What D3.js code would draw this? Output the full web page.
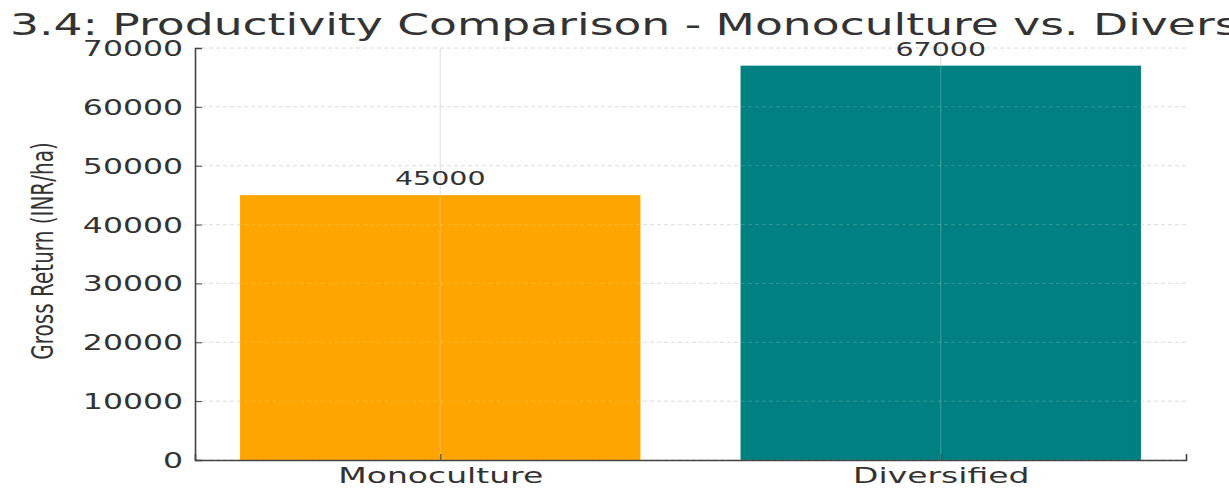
<!DOCTYPE html>
<html><head><meta charset="utf-8">
<script src="https://cdn.jsdelivr.net/npm/d3@7"></script>
<style>body{margin:0;background:#fff;overflow:hidden}text{font-family:"DejaVu Sans",sans-serif}</style>
</head><body>
<svg id="c" width="1229" height="488"></svg>
<script>
const categories = ["Monoculture", "Diversified"];
const values = [45000, 67000];
const colors = ["#FFA500", "#008080"];
const yTicks = [0, 10000, 20000, 30000, 40000, 50000, 60000, 70000];
const title = "3.4: Productivity Comparison - Monoculture vs. Diversified";
const yLabel = "Gross Return (INR/ha)";

const SX = 1.5;
const svg = d3.select("#c");
const L = 195, R = 1186, T = 48, B = 460;
const x = d3.scaleLinear().domain([-0.49, 1.49]).range([L, R]);
const y = d3.scaleLinear().domain([0, 70000]).range([B, T]);
const textCol = "#333";

// grid
svg.append("g").selectAll("line").data(yTicks).join("line")
  .attr("x1", L).attr("x2", R).attr("y1", d => y(d)).attr("y2", d => y(d))
  .attr("stroke", "#d8d8d8").attr("stroke-width", 1).attr("stroke-dasharray", "4,3");
svg.append("g").selectAll("line").data(categories).join("line")
  .attr("x1", (d, i) => x(i)).attr("x2", (d, i) => x(i)).attr("y1", T).attr("y2", B)
  .attr("stroke", "#d8d8d8").attr("stroke-width", 1);

// bars
svg.append("g").selectAll("rect").data(values).join("rect")
  .attr("x", (d, i) => x(i - 0.4)).attr("width", x(0.4) - x(-0.4))
  .attr("y", d => y(d)).attr("height", d => B - y(d))
  .attr("fill", (d, i) => colors[i]);

// faint grid over bars
svg.append("g").selectAll("line").data(categories).join("line")
  .attr("x1", (d, i) => x(i)).attr("x2", (d, i) => x(i)).attr("y1", T).attr("y2", B)
  .attr("stroke", "rgba(255,255,255,0.25)").attr("stroke-width", 1);
svg.append("g").selectAll("line").data(yTicks).join("line")
  .attr("x1", L).attr("x2", R).attr("y1", d => y(d)).attr("y2", d => y(d))
  .attr("stroke", "rgba(255,255,255,0.18)").attr("stroke-width", 1).attr("stroke-dasharray", "4,3");

// axes
const yAxis = d3.axisLeft(y).tickValues(yTicks).tickSize(-7).tickFormat(d3.format("d"));
const gy = svg.append("g").attr("transform", `translate(${L},0)`).call(yAxis);
gy.select(".domain").attr("stroke", "#444").attr("stroke-width", 1.6);
gy.selectAll(".tick line").attr("stroke", "#444");
gy.selectAll(".tick text").attr("x", 0).attr("dy", null)
  .attr("fill", textCol).attr("font-size", 21).attr("text-anchor", "end")
  .attr("transform", `translate(-12,7.5) scale(${SX},1)`);

const xAxis = d3.axisBottom(x).tickValues([0, 1]).tickSize(-6).tickFormat((d) => categories[d]);
const gx = svg.append("g").attr("transform", `translate(0,${B})`).call(xAxis);
gx.select(".domain").attr("stroke", "#444").attr("stroke-width", 1.6);
gx.selectAll(".tick line").attr("stroke", "#444");
gx.selectAll(".tick text").attr("y", 0).attr("dy", null)
  .attr("fill", textCol).attr("font-size", 22).attr("text-anchor", "middle")
  .attr("transform", `translate(0,23) scale(${SX},1)`);

// value labels
svg.append("g").selectAll("text").data(values).join("text")
  .attr("transform", (d, i) => `translate(${x(i)},${y(d) - 10}) scale(${SX},1)`)
  .attr("text-anchor", "middle").attr("font-size", 19).attr("fill", textCol)
  .text(d => d);

// y label
svg.append("text")
  .attr("transform", `translate(53,251) scale(${SX},1) rotate(-90)`)
  .attr("text-anchor", "middle").attr("font-size", 20).attr("fill", textCol)
  .text(yLabel);

// title (clipped at the right edge, as in the reference)
svg.append("text")
  .attr("transform", `translate(10,35) scale(${SX},1)`)
  .attr("font-size", 30.4).attr("fill", textCol)
  .text(title);
</script>
</body></html>
